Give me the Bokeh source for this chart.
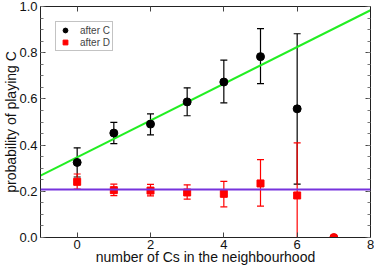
from bokeh.plotting import figure
from bokeh.models import (ColumnDataSource, Whisker, TeeHead, LinearAxis, FixedTicker, Range1d,
                          Legend, LegendItem, Span, PrintfTickFormatter, CustomJSTickFormatter)
from bokeh.embed import file_html
from bokeh.resources import INLINE

# data
x_c = [0, 1, 2, 3, 4, 5, 6]
p_c = [0.325, 0.452, 0.491, 0.587, 0.673, 0.783, 0.557]
c_upper = [0.388, 0.498, 0.535, 0.648, 0.768, 0.904, 0.882]
c_lower = [0.262, 0.406, 0.444, 0.527, 0.583, 0.666, 0.231]

x_d = [0, 1, 2, 3, 4, 5, 6]
p_d = [0.241, 0.205, 0.203, 0.195, 0.189, 0.234, 0.182]
d_upper = [0.275, 0.231, 0.230, 0.228, 0.243, 0.337, 0.410]
d_lower = [0.210, 0.181, 0.180, 0.166, 0.133, 0.136, 0.0]

x_extra = [7]
p_extra = [0.0]

fit_c_intercept = 0.347
fit_c_slope = 0.0796
fit_d_level = 0.208

x_ticks = [0, 2, 4, 6, 8]
y_ticks = [0.0, 0.2, 0.4, 0.6, 0.8, 1.0]
y_minor = [round(i * 0.05, 2) for i in range(21)]

FONT = "Liberation Sans"

p = figure(width=374, height=267, output_backend="svg", toolbar_location=None,
           x_range=Range1d(-1, 8), y_range=Range1d(0, 1),
           min_border_left=0, min_border_right=4, min_border_top=6, min_border_bottom=0)
p.xgrid.visible = False
p.ygrid.visible = False
p.outline_line_color = "#222222"
p.background_fill_color = "white"

def style(ax, labels=True):
    ax.major_tick_in = 5
    ax.major_tick_out = 0
    ax.minor_tick_in = 3
    ax.minor_tick_out = 0
    ax.axis_line_color = "#222222"
    ax.major_tick_line_color = "#444444"
    ax.minor_tick_line_color = "#777777"
    if labels:
        ax.major_label_text_font = FONT
        ax.major_label_text_font_size = "13px"
        ax.major_label_text_color = "#111111"
        ax.major_label_standoff = 3
    else:
        ax.formatter = CustomJSTickFormatter(code="return '';")
        ax.major_label_text_font_size = "1px"
        ax.major_label_standoff = 0

p.xaxis.ticker = FixedTicker(ticks=x_ticks)
p.yaxis.ticker = FixedTicker(ticks=y_ticks, minor_ticks=y_minor)
p.yaxis.formatter = PrintfTickFormatter(format="%.1f")
style(p.xaxis[0])
style(p.yaxis[0])
p.xaxis.major_label_standoff = 2
p.xaxis.axis_label = "number of Cs in the neighbourhood"
p.yaxis.axis_label = "probability of playing C"
for ax in (p.xaxis[0], p.yaxis[0]):
    ax.axis_label_text_font = FONT
    ax.axis_label_text_font_size = "14px"
    ax.axis_label_text_font_style = "normal"
    ax.axis_label_text_color = "#111111"
    ax.axis_label_standoff = -3

top = LinearAxis(ticker=FixedTicker(ticks=x_ticks))
style(top, labels=False)
p.add_layout(top, "above")
right = LinearAxis(ticker=FixedTicker(ticks=y_ticks, minor_ticks=y_minor))
style(right, labels=False)
p.add_layout(right, "right")

# fit lines
xl = [-1, 8]
p.line(xl, [fit_c_intercept + fit_c_slope * v for v in xl], line_color="#22ee22", line_width=2)
p.add_layout(Span(location=fit_d_level, dimension="width", line_color="#7733dd", line_width=2))

# error bars
src_c = ColumnDataSource(dict(x=x_c, y=p_c, up=c_upper, lo=c_lower))
src_d = ColumnDataSource(dict(x=x_d, y=p_d, up=d_upper, lo=d_lower))
wc = Whisker(base="x", upper="up", lower="lo", source=src_c, line_color="black", line_width=1.2,
             upper_head=TeeHead(size=7, line_color="black", line_width=1.2),
             lower_head=TeeHead(size=7, line_color="black", line_width=1.2))
wd = Whisker(base="x", upper="up", lower="lo", source=src_d, line_color="#ff0000", line_width=1.2,
             upper_head=TeeHead(size=7, line_color="#ff0000", line_width=1.2),
             lower_head=TeeHead(size=7, line_color="#ff0000", line_width=1.2))
p.add_layout(wc)
p.add_layout(wd)

rc = p.scatter("x", "y", source=src_c, marker="circle", size=8, fill_color="black", line_color="black")
rd = p.scatter("x", "y", source=src_d, marker="square", size=7, fill_color="#ff0000", line_color="#ff0000")
p.scatter(x_extra, p_extra, marker="circle", size=8, fill_color="#ff0000", line_color="#ee0000")

legend = Legend(items=[LegendItem(label="after C", renderers=[rc]),
                       LegendItem(label="after D", renderers=[rd])],
                location="top_left", margin=15, padding=2, spacing=-1,
                glyph_height=12, glyph_width=14, label_height=11, label_standoff=8,
                label_text_font=FONT, label_text_font_size="10px",
                label_text_line_height=1.0,
                border_line_color="#888888", border_line_width=1,
                background_fill_alpha=1)
p.add_layout(legend)

open("out.html", "w").write(file_html(p, INLINE))
